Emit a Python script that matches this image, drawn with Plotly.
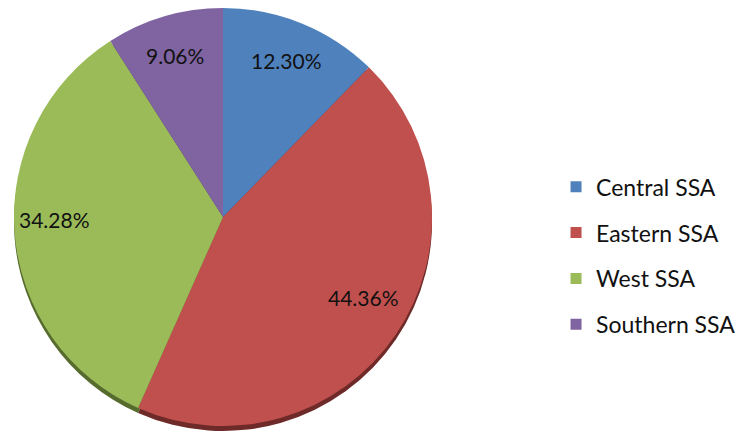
import math
import plotly.graph_objects as go

regions = ["Central SSA", "Eastern SSA", "West SSA", "Southern SSA"]
shares = [12.30, 44.36, 34.28, 9.06]
colors = ["#4F81BD", "#C0504D", "#9BBB59", "#8064A2"]
shadow_colors = ["#2C4A6E", "#6E2A28", "#566B2E", "#48385C"]
label_text = [f"{v:.2f}%" for v in shares]

W, H = 744, 440
FONT = "Lato, Noto Sans, sans-serif"

# pie placement (px within the figure)
cx, cy_top, R = 215, 209, 209
dom_x = [(cx - R) / W, (cx + R) / W]
dom_y = [1 - (cy_top + R) / H, 1 - (cy_top - R) / H]
sh = 5  # shadow drop in px
dom_y_sh = [dom_y[0] - sh / H, dom_y[1] - sh / H]

fig = go.Figure()
# shadow (3-D rim)
fig.add_trace(go.Pie(
    labels=regions, values=shares, sort=False, direction="clockwise", rotation=0,
    marker=dict(colors=shadow_colors, line=dict(width=0)),
    textinfo="none", hoverinfo="skip", showlegend=False,
    domain=dict(x=dom_x, y=dom_y_sh),
))
fig.add_trace(go.Pie(
    labels=regions, values=shares, text=label_text,
    textinfo="none", hovertemplate="%{label}: %{text}<extra></extra>",
    sort=False, direction="clockwise", rotation=0,
    marker=dict(colors=colors, line=dict(width=0)),
    domain=dict(x=dom_x, y=dom_y),
    showlegend=False,
))

# data labels along each slice's bisector (slightly tilted ellipse, as in the 3-D original)
total = sum(shares)
cum = 0.0
lab_cx = cx / W
lab_cy = 1 - (cy_top - 9) / H
kx, ky = 0.81 * R, 0.76 * R
for v, t in zip(shares, label_text):
    mid = (cum + v / 2) / total * 2 * math.pi
    cum += v
    fig.add_annotation(
        x=lab_cx + kx * math.sin(mid) / W,
        y=lab_cy + ky * math.cos(mid) / H,
        xref="paper", yref="paper", text=t, showarrow=False,
        xanchor="center", yanchor="middle",
        font=dict(family=FONT, size=21, color="#111111"),
    )

for name, c in zip(regions, colors):
    fig.add_trace(go.Scatter(
        x=[None], y=[None], mode="markers", name=name, legendgroup=name,
        marker=dict(symbol="square", size=11, color=c),
    ))

fig.update_layout(
    width=W, height=H, margin=dict(l=0, r=0, t=0, b=0),
    paper_bgcolor="white", plot_bgcolor="white",
    xaxis=dict(visible=False), yaxis=dict(visible=False),
    legend=dict(x=0.7366, y=0.437, xanchor="left", yanchor="middle",
                font=dict(family=FONT, size=23, color="#111111"),
                tracegroupgap=13, itemwidth=30),
)
fig.write_html("out.html")
